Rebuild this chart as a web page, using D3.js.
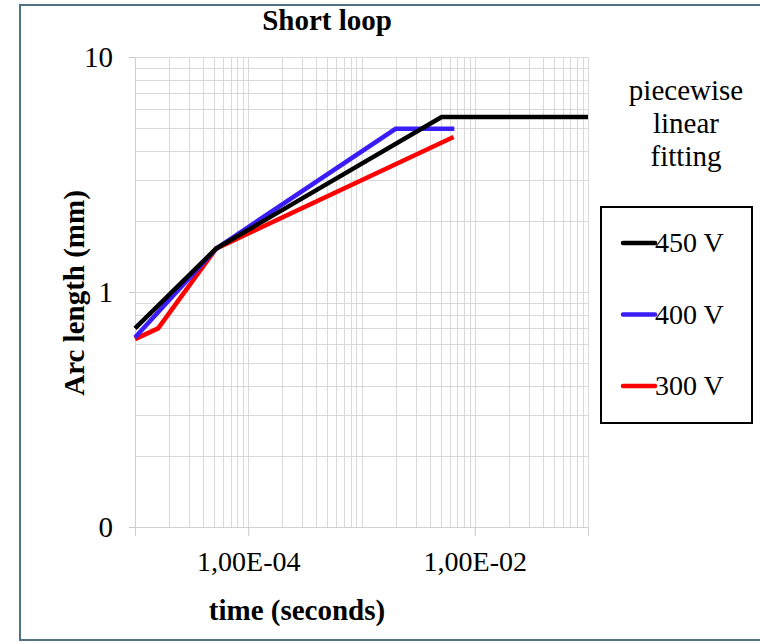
<!DOCTYPE html>
<html>
<head>
<meta charset="utf-8">
<script src="https://cdn.jsdelivr.net/npm/d3@7"></script>
<style>
  body { margin: 0; background: #fff; }
  text { font-family: "Liberation Serif", "DejaVu Serif", serif; fill: #000; }
</style>
</head>
<body>
<div id="chart"></div>
<script>
(function () {
    'use strict';

    // series (time in s, arc length in mm)
    var seriesNames = ['450 V', '400 V', '300 V'];
    var seriesColors = ['#000000', '#3a1cf6', '#ff0000'];
    var time450 = [1e-5, 5.2e-5, 5.1e-3, 1e-1];
    var arc450 = [0.70, 1.53, 5.55, 5.55];
    var time400 = [1e-5, 5.2e-5, 2.0e-3, 6.6e-3];
    var arc400 = [0.64, 1.53, 4.95, 4.95];
    var time300 = [1e-5, 1.6e-5, 5.2e-5, 6.5e-3];
    var arc300 = [0.63, 0.70, 1.53, 4.57];

    var xTickValues = [1e-4, 1e-2];
    var xTickLabels = ['1,00E-04', '1,00E-02'];
    var yTickValues = [0.1, 1, 10];
    var yTickLabels = ['0', '1', '10'];

    var width = 760;
    var height = 644;
    var plot = { left: 135, right: 588, top: 57, bottom: 527 };

    var svg = d3.select('#chart').append('svg')
        .attr('width', width)
        .attr('height', height);

    // outer frame
    svg.append('rect')
        .attr('x', 20).attr('y', 5)
        .attr('width', 760).attr('height', 635)
        .style('fill', 'none')
        .style('stroke', '#4f7384')
        .style('stroke-width', 2);

    var x = d3.scaleLog().domain([1e-5, 1e-1]).range([plot.left, plot.right]);
    var y = d3.scaleLog().domain([0.1, 10]).range([plot.bottom, plot.top]);

    // grid, every 1..9 of each decade
    var xGrid = [];
    var yGrid = [];
    [1e-5, 1e-4, 1e-3, 1e-2].forEach(function (d) {
        for (var k = 1; k < 10; k++) { xGrid.push(d * k); }
    });
    xGrid.push(1e-1);
    [0.1, 1].forEach(function (d) {
        for (var k = 1; k < 10; k++) { yGrid.push(d * k); }
    });
    yGrid.push(10);

    var grid = svg.append('g').attr('class', 'grid');
    grid.selectAll('line.vx').data(xGrid).enter().append('line')
        .attr('x1', function (d) { return Math.round(x(d)) + 0.5; })
        .attr('x2', function (d) { return Math.round(x(d)) + 0.5; })
        .attr('y1', plot.top).attr('y2', plot.bottom)
        .style('stroke', '#d9d9d9').style('stroke-width', 1);
    grid.selectAll('line.hy').data(yGrid).enter().append('line')
        .attr('y1', function (d) { return Math.round(y(d)) + 0.5; })
        .attr('y2', function (d) { return Math.round(y(d)) + 0.5; })
        .attr('x1', plot.left).attr('x2', plot.right)
        .style('stroke', '#d9d9d9').style('stroke-width', 1);

    // axes
    var xAxis = d3.axisBottom(x)
        .tickValues(xTickValues)
        .tickFormat(function (d, i) { return xTickLabels[i]; })
        .tickSize(9)
        .tickPadding(15);
    var gx = svg.append('g')
        .attr('transform', 'translate(0,' + plot.bottom + ')')
        .call(xAxis);
    var yAxis = d3.axisLeft(y)
        .tickValues(yTickValues)
        .tickFormat(function (d, i) { return yTickLabels[i]; })
        .tickSize(6)
        .tickPadding(16);
    var gy = svg.append('g')
        .attr('transform', 'translate(' + plot.left + ',0)')
        .call(yAxis);
    [gx, gy].forEach(function (g) {
        g.select('.domain').style('stroke', '#d0d0d0');
        g.selectAll('.tick line').style('stroke', '#c8c8c8');
        g.selectAll('.tick text')
            .style('font-family', '"Liberation Serif", serif')
            .style('font-size', '28px')
            .style('fill', '#000');
    });
    gy.selectAll('.tick text').style('font-size', '29px');

    // series lines
    var series = [
        { name: seriesNames[0], color: seriesColors[0], t: time450, v: arc450 },
        { name: seriesNames[1], color: seriesColors[1], t: time400, v: arc400 },
        { name: seriesNames[2], color: seriesColors[2], t: time300, v: arc300 }
    ];
    var line = d3.line()
        .x(function (d) { return x(d[0]); })
        .y(function (d) { return y(d[1]); });

    svg.append('g').selectAll('path').data(series.slice().reverse()).enter().append('path')
        .attr('d', function (s) { return line(d3.zip(s.t, s.v)); })
        .style('fill', 'none')
        .style('stroke', function (s) { return s.color; })
        .style('stroke-width', 4.5)
        .style('stroke-linejoin', 'miter');

    // title and axis titles
    svg.append('text')
        .attr('x', 327).attr('y', 30)
        .attr('text-anchor', 'middle')
        .style('font-size', '29px').style('font-weight', 'bold')
        .text('Short loop');
    svg.append('text')
        .attr('x', 297).attr('y', 620)
        .attr('text-anchor', 'middle')
        .style('font-size', '29px').style('font-weight', 'bold')
        .text('time (seconds)');
    svg.append('text')
        .attr('transform', 'translate(84,' + 293 + ') rotate(-90)')
        .attr('text-anchor', 'middle')
        .style('font-size', '29px').style('font-weight', 'bold')
        .text('Arc length (mm)');

    // legend title
    var noteLines = ['piecewise', 'linear', 'fitting'];
    svg.append('g').selectAll('text').data(noteLines).enter().append('text')
        .attr('x', 686)
        .attr('y', function (d, i) { return 100 + i * 33; })
        .attr('text-anchor', 'middle')
        .style('font-size', '29px')
        .text(function (d) { return d; });

    // legend box
    var legend = svg.append('g');
    legend.append('rect')
        .attr('x', 601).attr('y', 207)
        .attr('width', 151).attr('height', 216)
        .style('fill', '#fff')
        .style('stroke', '#000')
        .style('stroke-width', 2);
    var items = legend.selectAll('g.item').data(series).enter().append('g')
        .attr('transform', function (d, i) { return 'translate(0,' + (243 + i * 71.5) + ')'; });
    items.append('line')
        .attr('x1', 623).attr('x2', 655)
        .attr('y1', 0).attr('y2', 0)
        .style('stroke', function (d) { return d.color; })
        .style('stroke-width', 4.5)
        .style('stroke-linecap', 'round');
    items.append('text')
        .attr('x', 655).attr('y', 9)
        .style('font-size', '28px')
        .text(function (d) { return d.name; });
})();
</script>
</body>
</html>
